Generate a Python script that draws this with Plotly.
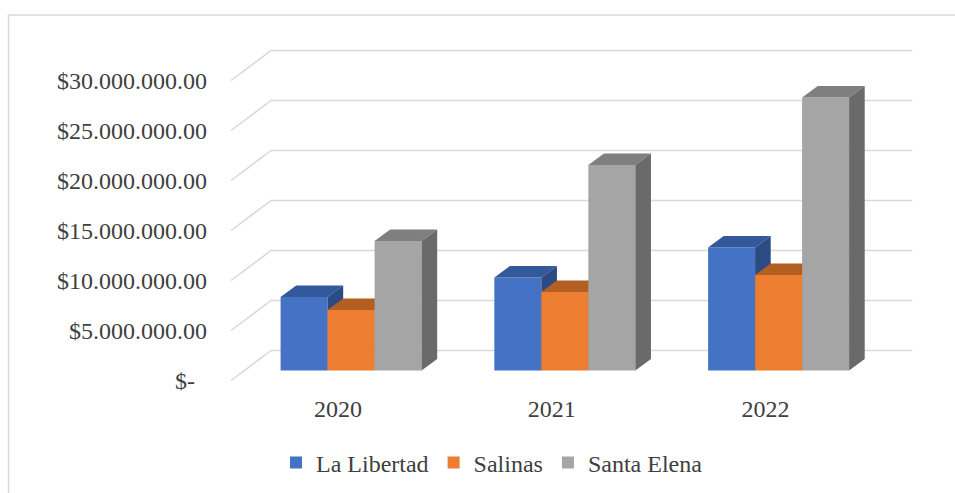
import plotly.graph_objects as go

# ---------------- data ----------------
years = ["2020", "2021", "2022"]
series_names = ["La Libertad", "Salinas", "Santa Elena"]
la_libertad = [7.35e6, 9.3e6, 12.3e6]
salinas = [6.05e6, 7.85e6, 9.55e6]
santa_elena = [12.95e6, 20.55e6, 27.3e6]
tick_values = [0, 5e6, 10e6, 15e6, 20e6, 25e6, 30e6]
tick_labels = ["$-\u00a0\u00a0", "$5.000.000.00", "$10.000.000.00", "$15.000.000.00",
               "$20.000.000.00", "$25.000.000.00", "$30.000.000.00"]

values = [la_libertad, salinas, santa_elena]
front_colors = ["#4472C4", "#ED7D31", "#A5A5A5"]
top_colors = ["#33599B", "#B45F22", "#7F7F7F"]
side_colors = ["#2C4A84", "#9A5020", "#6A6A6A"]

FONT = "Liberation Serif, Times New Roman, serif"
TXT = "#404040"
GRID = "#D9D9D9"

# ---------------- geometry (oblique 3D projection) ----------------
W, H = 955, 493
L, R, T, B = 208, 935, 30, 392          # plot area in pixels
S = 213.75                               # pixels per category unit
X0PX = 337.9                             # pixel of category 0 (floor front)
ZERO_PX = 380.5                          # pixel of value 0 (floor front)
PX_PER_VAL = 10 / 1e6                    # 10 px per million
DX = 40 / S                              # full floor depth, x units
DY = 30 / PX_PER_VAL                     # full floor depth, value units
T0, T1 = 0.33, 0.72                      # bar depth span (fraction of floor depth)
BW = 47 / S                              # bar width

xr = [(L - X0PX) / S, (R - X0PX) / S]
yr = [-(B - ZERO_PX) / 10 * 1e6, (ZERO_PX - T) / 10 * 1e6]

fig = go.Figure()

# walls gridlines (back wall horizontal + side wall diagonal)
gx, gy = [], []
x_left = -0.5
x_right = len(years) - 0.5
for v in tick_values:
    gx += [x_left, x_left + DX, x_right + DX, None]
    gy += [v, v + DY, v + DY, None]
fig.add_trace(go.Scatter(x=gx, y=gy, mode="lines", line=dict(color=GRID, width=1.5),
                         hoverinfo="skip", showlegend=False, zorder=0))

d = T1 - T0
base = T0 * DY
for i, (name, vals) in enumerate(zip(series_names, values)):
    centers = [c + T0 * DX + (i - 1) * BW for c in range(len(years))]
    fig.add_trace(go.Bar(
        x=centers, y=vals, base=[base] * len(vals), width=BW, name=name,
        marker=dict(color=front_colors[i], line=dict(width=0)),
        hoverinfo="skip", zorder=2 * i + 1))
    tx, ty, sx, sy = [], [], [], []
    for xc, v in zip(centers, vals):
        xl, xrt = xc - BW / 2, xc + BW / 2
        top = base + v
        tx += [xl, xl + d * DX, xrt + d * DX, xrt, xl, None]
        ty += [top, top + d * DY, top + d * DY, top, top, None]
        sx += [xrt, xrt + d * DX, xrt + d * DX, xrt, xrt, None]
        sy += [base, base + d * DY, top + d * DY, top, base, None]
    fig.add_trace(go.Scatter(x=tx, y=ty, mode="lines", fill="toself",
                             fillcolor=top_colors[i], line=dict(width=0, color=top_colors[i]),
                             hoverinfo="skip", showlegend=False, zorder=2 * i + 2))
    fig.add_trace(go.Scatter(x=sx, y=sy, mode="lines", fill="toself",
                             fillcolor=side_colors[i], line=dict(width=0, color=side_colors[i]),
                             hoverinfo="skip", showlegend=False, zorder=2 * i + 2))


def px_to_paper_x(p):
    return (p - L) / (R - L)


def px_to_paper_y(p):
    return (B - p) / (B - T)


# chart border (light grey frame)
fig.add_shape(type="rect", xref="paper", yref="paper",
              x0=px_to_paper_x(8.5), x1=px_to_paper_x(970),
              y0=px_to_paper_y(510), y1=px_to_paper_y(15),
              line=dict(color=GRID, width=1.5), fillcolor="rgba(0,0,0,0)", layer="below")

fig.update_layout(
    width=W, height=H, autosize=False,
    margin=dict(l=L, r=W - R, t=T, b=H - B, pad=0),
    paper_bgcolor="white", plot_bgcolor="white",
    barmode="overlay",
    font=dict(family=FONT, size=24, color=TXT),
    xaxis=dict(range=xr, tickvals=list(range(len(years))), ticktext=years,
               showgrid=False, zeroline=False, showline=False, ticks="",
               tickfont=dict(family=FONT, size=24, color=TXT), fixedrange=True,
               automargin=False),
    yaxis=dict(range=yr, tickvals=tick_values, ticktext=tick_labels,
               showgrid=False, zeroline=False, showline=False, ticks="",
               tickfont=dict(family=FONT, size=24, color=TXT), fixedrange=True,
               automargin=False),
    legend=dict(orientation="h", xref="container", yref="container",
                x=492 / W, xanchor="center",
                y=(H - 463) / H, yanchor="middle",
                font=dict(family=FONT, size=24, color=TXT), bgcolor="rgba(0,0,0,0)"),
    showlegend=True,
)

fig.write_html("out.html")
